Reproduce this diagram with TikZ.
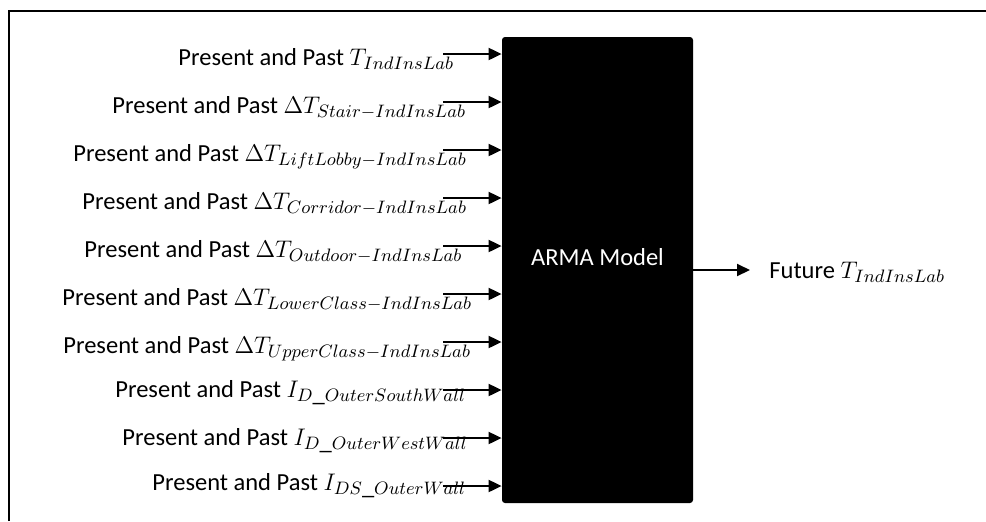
\documentclass[tikz,border=0pt]{standalone}
\usepackage[no-math]{fontspec}
\setmainfont{Carlito}
\usetikzlibrary{arrows.meta,positioning,calc}

\begin{document}
\begin{tikzpicture}[x=0.5pt, y=-0.5pt, font=\fontsize{12.25}{14}\selectfont,
    >={Triangle[length=6.5pt,width=6pt]},
    lbl/.style={anchor=base west, inner sep=0pt},
    flow/.style={->, line width=1pt}]
  \useasboundingbox (0,0) rectangle (986,521);
  \draw[line width=0.6pt] (9,521) -- (9,11) -- (986,11);
  % model block
  \node[fill=black, rounded corners=1.5pt, minimum width=95.5pt, minimum height=233pt, inner sep=0pt] (arma) at (597.5,270) {};
  \node[text=white, anchor=base] (armatext) at (597.5,265) {ARMA Model};
  % inputs
  \node[lbl] (l1) at (178,65) {Present and Past $T_{IndInsLab}$};
  \node[lbl] (l2) at (112,113) {Present and Past $\Delta T_{Stair-IndInsLab}$};
  \node[lbl] (l3) at (73,161) {Present and Past $\Delta T_{LiftLobby-IndInsLab}$};
  \node[lbl] (l4) at (82,209) {Present and Past $\Delta T_{Corridor-IndInsLab}$};
  \node[lbl] (l5) at (84,257) {Present and Past $\Delta T_{Outdoor-IndInsLab}$};
  \node[lbl] (l6) at (62,305) {Present and Past $\Delta T_{LowerClass-IndInsLab}$};
  \node[lbl] (l7) at (63,353) {Present and Past $\Delta T_{UpperClass-IndInsLab}$};
  \node[lbl] (l8) at (115,397) {Present and Past $I_{D\_OuterSouthWall}$};
  \node[lbl] (l9) at (122,445) {Present and Past $I_{D\_OuterWestWall}$};
  \node[lbl] (l10) at (152,490) {Present and Past $I_{DS\_OuterWall}$};
  \coordinate (a1) at (443,54);
  \coordinate (a2) at (443,102);
  \coordinate (a3) at (443,150);
  \coordinate (a4) at (443,198);
  \coordinate (a5) at (443,246);
  \coordinate (a6) at (443,294);
  \coordinate (a7) at (443,342);
  \coordinate (a8) at (443,390);
  \coordinate (a9) at (443,438);
  \coordinate (a10) at (443,486);
  \draw[flow] (a1) -- (a1 -| arma.west);
  \draw[flow] (a2) -- (a2 -| arma.west);
  \draw[flow] (a3) -- (a3 -| arma.west);
  \draw[flow] (a4) -- (a4 -| arma.west);
  \draw[flow] (a5) -- (a5 -| arma.west);
  \draw[flow] (a6) -- (a6 -| arma.west);
  \draw[flow] (a7) -- (a7 -| arma.west);
  \draw[flow] (a8) -- (a8 -| arma.west);
  \draw[flow] (a9) -- (a9 -| arma.west);
  \draw[flow] (a10) -- (a10 -| arma.west);
  % output
  \node[lbl] (future) at (769,278) {Future $T_{IndInsLab}$};
  \coordinate (outtip) at (750,270);
  \draw[flow] (arma.east) -- (outtip);
\end{tikzpicture}
\end{document}
